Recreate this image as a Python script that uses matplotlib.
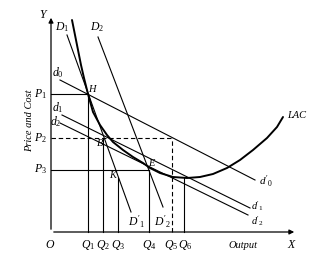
import matplotlib
matplotlib.use("Agg")
import matplotlib.pyplot as plt

plt.rcParams['mathtext.fontset'] = 'custom'
plt.rcParams['mathtext.rm'] = 'Liberation Serif'
plt.rcParams['mathtext.it'] = 'Liberation Serif:italic'
plt.rcParams['font.family'] = ['Liberation Serif']

# ---- data (quantity, price) ----
Q1, Q2, Q3, Q4, Q5, Q6 = 3.7, 5.2, 6.7, 9.8, 12.1, 13.3
P1, P2, P3 = 13.8, 9.4, 6.25
K_price = 5.4
LAC_min = 5.4

lac_q = [2.1, 2.4, 2.7, 3.0, 3.3, 3.7, 4.2, 4.9, 5.6, 6.2, 7.2, 8.2, 9.2, 9.9,
         10.9, 12.2, 13.6, 14.9, 16.2, 17.6, 18.9, 20.2, 21.6, 22.6, 23.2]
lac_p = [21.2, 19.7, 18.2, 16.7, 15.4, 13.8, 12.0, 10.7, 9.7, 9.0, 8.2, 7.5, 6.9, 6.4,
         5.9, 5.5, 5.4, 5.5, 5.8, 6.4, 7.2, 8.2, 9.4, 10.5, 11.5]

D1_q, D1_p = [1.6, 8.0], [19.7, 2.0]
D2_q, D2_p = [4.7, 11.2], [19.5, 2.5]
d0_q, d0_p = [0.9, 20.4], [15.2, 5.2]
d1_q, d1_p = [1.1, 19.9], [11.7, 2.4]
d2_q, d2_p = [0.9, 19.7], [10.9, 1.7]

fig = plt.figure(figsize=(3.15, 2.58), dpi=100)
ax = fig.add_axes([0, 0, 1, 1])
ax.set_xlim(-5.1, 26.4)
ax.set_ylim(-2.6, 23.2)
ax.axis('off')

k = 'black'
lw = 0.8
# axes with arrows
ax.annotate('', xy=(0, 21.7), xytext=(0, 0),
            arrowprops=dict(arrowstyle='-|>', color=k, lw=0.9, mutation_scale=7))
ax.annotate('', xy=(24.6, 0), xytext=(0, 0),
            arrowprops=dict(arrowstyle='-|>', color=k, lw=0.9, mutation_scale=7))

# LAC
ax.plot(lac_q, lac_p, color=k, lw=1.4, solid_capstyle='round')
# demand curves
for qq, pp in [(D1_q, D1_p), (D2_q, D2_p), (d0_q, d0_p), (d1_q, d1_p), (d2_q, d2_p)]:
    ax.plot(qq, pp, color=k, lw=lw)

# guide lines
ax.plot([0, Q1], [P1, P1], color=k, lw=lw)
ax.plot([Q1, Q1], [0, P1], color=k, lw=lw)
ax.plot([0, Q5], [P2, P2], color=k, lw=lw, ls=(0, (4, 2.5)))
ax.plot([Q5, Q5], [0, P2], color=k, lw=lw, ls=(0, (4, 2.5)))
ax.plot([Q2, Q2], [0, P2], color=k, lw=lw)
ax.plot([0, Q4], [P3, P3], color=k, lw=lw)
ax.plot([Q4, Q4], [0, P3], color=k, lw=lw)
ax.plot([Q3, Q3], [0, K_price], color=k, lw=lw)
ax.plot([Q6, Q6], [0, LAC_min], color=k, lw=lw)


def t(x, y, s, ha='center', va='center', fs=8.5, **kw):
    ax.text(x, y, s, ha=ha, va=va, fontsize=fs, color=k, **kw)


t(-0.7, 21.7, r'$Y$')
t(24.1, -1.3, r'$X$')
t(-0.1, -1.3, r'$O$')
t(19.2, -1.3, 'Output', style='italic', fs=7.5)
for q, s in [(Q1, r'$Q_1$'), (Q2, r'$Q_2$'), (Q3, r'$Q_3$'), (Q4, r'$Q_4$'),
             (Q5 - 0.1, r'$Q_5$'), (Q6 + 0.1, r'$Q_6$')]:
    t(q, -1.3, s)
for p, s in [(P1, r'$P_1$'), (P2, r'$P_2$'), (P3, r'$P_3$')]:
    t(-1.1, p, s)
ax.text(-2.1, 11.1, 'Price and Cost', rotation=90, ha='center', va='center',
        fontsize=7.5, style='italic', color=k)
t(1.1, 20.5, r'$D_1$')
t(4.6, 20.5, r'$D_2$')
t(0.7, 15.9, r'$d_0$')
t(0.7, 12.4, r'$d_1$')
t(0.5, 11.0, r'$d_2$')
t(4.2, 14.4, r'$H$', fs=7.5)
t(4.9, 8.9, r'$B$', fs=7.5)
t(10.1, 6.9, r'$E$', fs=7.5)
t(6.3, 5.7, r'$K$', fs=7.5)
t(8.6, 1.0, r"$D'_1$")
t(11.2, 1.0, r"$D'_2$")
t(21.5, 5.0, r"$d'_0$", fs=8)
t(20.7, 2.6, r"$d'_1$", fs=7.5)
t(20.7, 1.1, r"$d'_2$", fs=7.5)
t(23.6, 11.7, 'LAC', ha='left', style='italic', fs=7.5)

fig.savefig('out.png', dpi=100)
